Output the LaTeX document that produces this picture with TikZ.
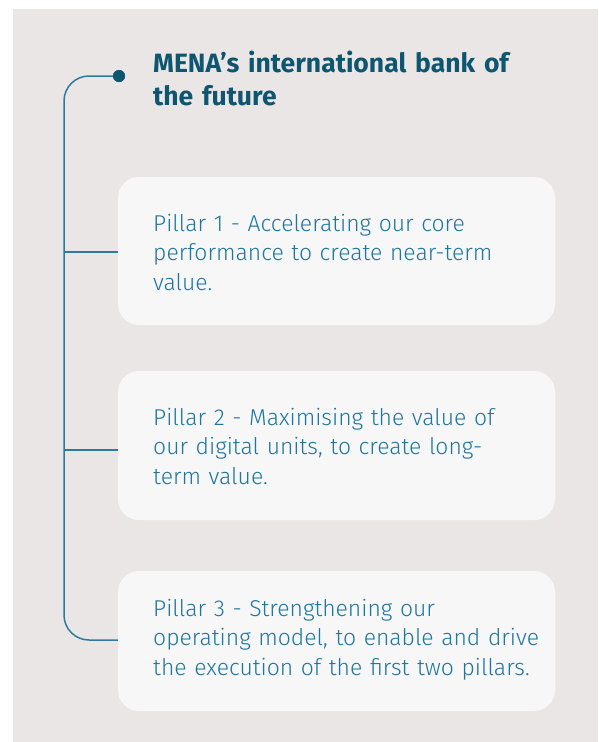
\documentclass[tikz,border=0pt]{standalone}
\usepackage{fontspec}
\setmainfont{Fira Sans}[UprightFont=* Light, BoldFont=* Bold]
\definecolor{panelbg}{HTML}{EBE6E6}
\definecolor{cardbg}{HTML}{F7F7F7}
\definecolor{titleteal}{HTML}{0E5570}
\definecolor{bodyteal}{HTML}{1E76A0}
\definecolor{linkteal}{HTML}{2C7B9E}
\begin{document}
\begin{tikzpicture}[x=1pt,y=-1pt,
  card/.style={fill=cardbg, rounded corners=21pt, draw=none},
  cardtext/.style={anchor=base west, inner sep=0pt, text width=420pt, align=left,
    text=bodyteal, font=\fontsize{22.9}{29.5}\selectfont},
  link/.style={draw=linkteal, line width=1.5pt}]
  % page and panel
  \fill[white] (0,0) rectangle (598,742);
  \fill[panelbg] (13,9) rectangle (598,742);
  \useasboundingbox (0,0) rectangle (598,742);

  % heading
  \node[anchor=base west, inner sep=0pt, text width=430pt, align=left, text=titleteal,
    font=\bfseries\fontsize{26.5}{33.5}\selectfont] (title) at (153,72)
    {MENA’s international bank of\\the future};

  % pillar cards
  \path[card] (118,177) rectangle (555,325);
  \path[card] (118,371) rectangle (555,520);
  \path[card] (118,571) rectangle (555,711);
  \node[inner sep=0pt, minimum width=437pt, minimum height=148pt] (box1) at (336.5,251) {};
  \node[inner sep=0pt, minimum width=437pt, minimum height=149pt] (box2) at (336.5,445.5) {};
  \node[inner sep=0pt, minimum width=437pt, minimum height=140pt] (box3) at (336.5,641) {};

  \node[cardtext] (p1) at (153,231)
    {Pillar 1 - Accelerating our core\\performance to create near-term\\value.};
  \node[cardtext] (p2) at (153,425)
    {Pillar 2 - Maximising the value of\\our digital units, to create long-\\term value.};
  \node[cardtext] (p3) at (153,616)
    {Pillar 3 - Strengthening our\\operating model, to enable and drive\\the execution of the first two pillars.};

  % spine with its dot
  \node[circle, fill=titleteal, inner sep=0pt, minimum size=12pt] (dot) at (119,76) {};
  \coordinate (spinetop) at (64,76);
  \coordinate (spinebot) at (64,640);
  \draw[link, rounded corners=25pt] (dot.center) -- (spinetop) -- (spinebot) -- (box3.west |- spinebot);
  \draw[link] ([yshift=-1pt]box1.west) -- ([yshift=-1pt]box1.west -| spinetop);
  \draw[link] ([yshift=-4.5pt]box2.west) -- ([yshift=-4.5pt]box2.west -| spinetop);
  \node[circle, fill=titleteal, inner sep=0pt, minimum size=12pt] at (dot) {};
\end{tikzpicture}
\end{document}
